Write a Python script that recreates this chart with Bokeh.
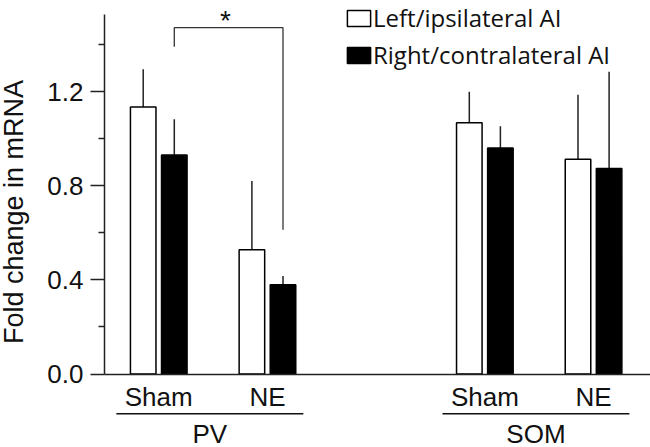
import numpy as np
from bokeh.plotting import figure
from bokeh.models import (ColumnDataSource, Range1d, FixedTicker, Legend, LegendItem,
                          NumeralTickFormatter)
from bokeh.embed import file_html
from bokeh.resources import INLINE
from bokeh.core.properties import value

# ---------------- data ----------------
groups = ["PV", "SOM"]
conditions = ["Sham", "NE"]
series = ["Left/ipsilateral AI", "Right/contralateral AI"]
# order: PV-Sham, PV-NE, SOM-Sham, SOM-NE
left_mean = [1.135, 0.528, 1.068, 0.913]
left_err = [0.160, 0.292, 0.132, 0.274]
right_mean = [0.931, 0.379, 0.960, 0.873]
right_err = [0.152, 0.037, 0.093, 0.412]
y_ticks = [0.0, 0.4, 0.8, 1.2]
y_minor_ticks = [0.2, 0.6, 1.0, 1.4]
y_label = "Fold change in mRNA"
sig_text = "*"
sig_top = 1.472
sig_left_end = 1.391
sig_right_end = 0.613

# ---------------- layout params ----------------
W, H = 650, 447
GROUP_STEP = 3.0
DODGE = 0.143
BAR_W = 0.235
AX = "#222222"
FONT = "Liberation Sans"
X0, XS = 158.25, 108.7      # pixel of x=0, pixels per x unit
Y0, YS = 373.5, 235.3       # pixel of y=0, pixels per y unit

def dx(px):
    return (px - X0) / XS

def dy(py):
    return (Y0 - py) / YS

centers = [GROUP_STEP * g + c for g in range(len(groups)) for c in range(len(conditions))]
cond_labels = [conditions[c] for g in range(len(groups)) for c in range(len(conditions))]
xl = [x - DODGE for x in centers]
xr = [x + DODGE for x in centers]

src_l = ColumnDataSource(dict(x=xl, top=left_mean, up=[m + e for m, e in zip(left_mean, left_err)]))
src_r = ColumnDataSource(dict(x=xr, top=right_mean, up=[m + e for m, e in zip(right_mean, right_err)]))

p = figure(width=W, height=H, x_range=Range1d(dx(0), dx(W)), y_range=Range1d(dy(H), dy(0)),
           output_backend="svg", toolbar_location=None, min_border=0)
p.outline_line_color = None
p.xgrid.visible = False
p.ygrid.visible = False
p.background_fill_color = "white"
p.border_fill_color = "white"

# error bars
p.segment(x0="x", y0="top", x1="x", y1="up", source=src_l, line_color=AX, line_width=1.5)
p.segment(x0="x", y0="top", x1="x", y1="up", source=src_r, line_color=AX, line_width=1.5)
# bars
r_l = p.vbar(x="x", top="top", bottom=0, width=BAR_W, source=src_l,
             fill_color="white", line_color="black", line_width=1.5)
r_r = p.vbar(x="x", top="top", bottom=0, width=BAR_W, source=src_r,
             fill_color="black", line_color="black", line_width=1.5)

# significance bracket (PV: Sham right vs NE right)
bx0, bx1 = xr[0], xr[1]
p.line(x=[bx0, bx0, bx1, bx1], y=[sig_left_end, sig_top, sig_top, sig_right_end],
       line_color="#333333", line_width=1.3)
p.text(x=[(bx0 + bx1) / 2 - 0.03], y=[dy(19.5)], text=[sig_text],
       text_font=value(FONT), text_font_size="28px", text_align="center",
       text_baseline="middle", text_color="#111111")

# y axis (drawn inside the frame at a fixed location)
ya = p.yaxis[0]
ya.fixed_location = dx(104)
ya.ticker = FixedTicker(ticks=y_ticks, minor_ticks=y_minor_ticks)
ya.formatter = NumeralTickFormatter(format="0.0")
ya.bounds = (0, dy(13.5))
ya.axis_line_color = AX
ya.axis_line_width = 1.5
ya.major_tick_line_color = AX
ya.major_tick_line_width = 1.5
ya.minor_tick_line_color = AX
ya.minor_tick_line_width = 1.5
ya.major_tick_out = 14
ya.major_tick_in = 0
ya.minor_tick_out = 6
ya.minor_tick_in = 0
ya.major_label_standoff = 7
ya.major_label_text_font = FONT
ya.major_label_text_font_size = "26px"
ya.major_label_text_color = "#111111"

# x axis with condition labels (at y = 0)
xa = p.xaxis[0]
xa.fixed_location = 0
xa.bounds = (dx(104), dx(W))
xa.ticker = FixedTicker(ticks=centers)
xa.major_label_overrides = {c: lab for c, lab in zip(centers, cond_labels)}
xa.axis_line_color = AX
xa.axis_line_width = 1.5
xa.major_tick_line_color = None
xa.minor_tick_line_color = None
xa.major_tick_in = 0
xa.major_tick_out = 0
xa.major_label_standoff = 8
xa.major_label_text_font = FONT
xa.major_label_text_font_size = "26px"
xa.major_label_text_color = "#111111"

# group lines and labels
gx0 = [GROUP_STEP * g - 0.39 for g in range(len(groups))]
gx1 = [GROUP_STEP * g + 1.33 for g in range(len(groups))]
gy_line = dy(413.3)
p.segment(x0=gx0, y0=[gy_line] * len(groups), x1=gx1, y1=[gy_line] * len(groups),
          line_color="#111111", line_width=1.5)
p.text(x=[(a + b) / 2 for a, b in zip(gx0, gx1)], y=[dy(433.0)] * len(groups), text=groups,
       text_font=value(FONT), text_font_size="26px", text_align="center",
       text_baseline="middle", text_color="#111111")

# y axis title
p.text(x=[dx(13.5)], y=[dy(211.5)], text=[y_label], angle=np.pi / 2,
       text_font=value(FONT), text_font_size="27px", text_align="center",
       text_baseline="middle", text_color="#111111")

# legend
legend = Legend(items=[LegendItem(label=series[0], renderers=[r_l]),
                       LegendItem(label=series[1], renderers=[r_r])],
                location=(344, 376), orientation="vertical",
                glyph_width=29, glyph_height=20, label_standoff=0, padding=0, margin=0,
                spacing=4, label_text_font="Open Sans", label_text_font_size="24px",
                label_text_color="#111111", border_line_color=None,
                background_fill_alpha=0)
p.add_layout(legend)

open("out.html", "w").write(file_html(p, INLINE))
